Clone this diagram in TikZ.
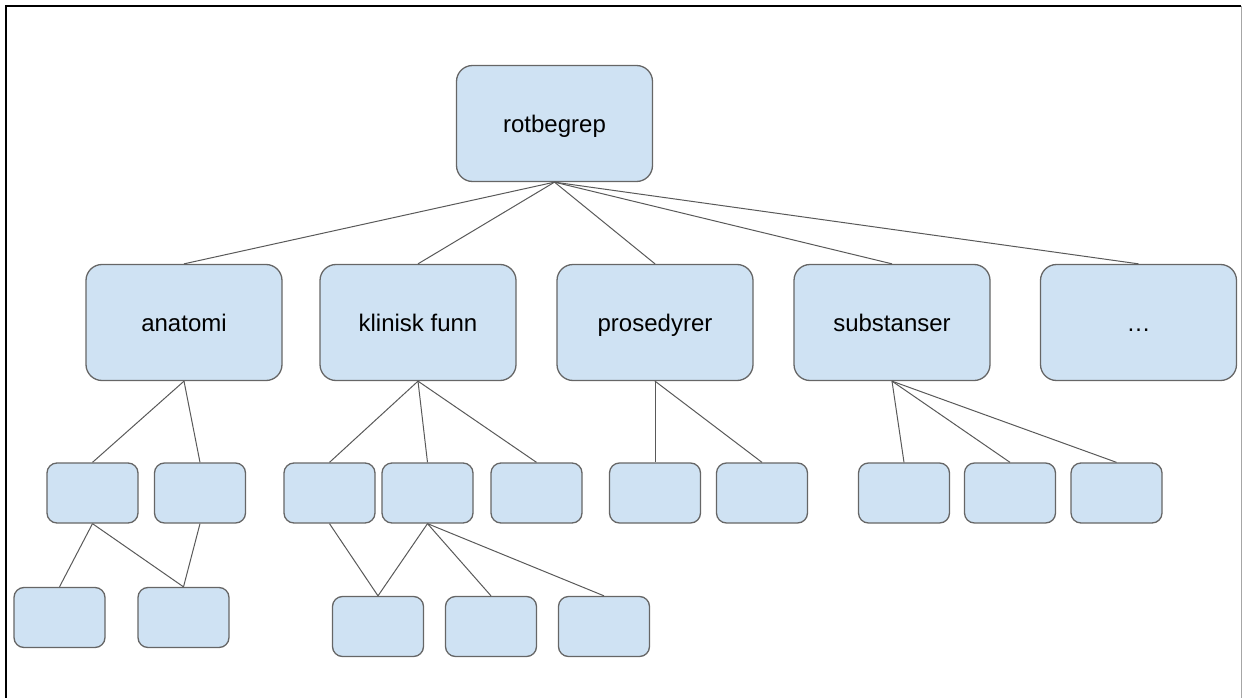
\documentclass[tikz,border=0pt]{standalone}
\usepackage{fontspec}
\setmainfont{Liberation Sans}
\definecolor{boxfill}{HTML}{CFE2F3}
\definecolor{boxline}{HTML}{666666}
\definecolor{linkline}{HTML}{595959}

\begin{document}
\begin{tikzpicture}[x=1pt, y=-1pt,
  concept/.style={draw=boxline, fill=boxfill, line width=1.3pt, rounded corners=16pt,
    minimum width=196pt, minimum height=116pt, inner sep=0pt, text height=18pt, text depth=1pt,
    font=\fontsize{24}{29}\selectfont},
  leaf/.style={draw=boxline, fill=boxfill, line width=1.3pt, rounded corners=10pt,
    minimum width=91pt, minimum height=60pt, inner sep=0pt}]
  \useasboundingbox (0,0) rectangle (1242,698);
  \draw[line width=2.5pt] (1241,6) -- (6,6) -- (6,698);
  \draw[gray!70, line width=1pt] (1241,6) -- (1241,698);

  % top two levels
  \node[concept] (root) at (554.5,123.5) {rotbegrep};
  \node[concept] (anatomi) at (184,322.5) {anatomi};
  \node[concept] (funn) at (418,322.5) {klinisk funn};
  \node[concept] (prosedyrer) at (655,322.5) {prosedyrer};
  \node[concept] (substanser) at (892,322.5) {substanser};
  \node[concept] (more) at (1138.5,322.5) {…};

  % children
  \node[leaf] (an-1) at (92.5,493) {};
  \node[leaf] (an-2) at (200,493) {};
  \node[leaf] (an-1-1) at (59.5,617.5) {};
  \node[leaf] (an-1-2) at (183.5,617.5) {};
  \node[leaf] (fu-1) at (329.5,493) {};
  \node[leaf] (fu-2) at (427.5,493) {};
  \node[leaf] (fu-3) at (536.5,493) {};
  \node[leaf] (fu-2-1) at (378,626.5) {};
  \node[leaf] (fu-2-2) at (491,626.5) {};
  \node[leaf] (fu-2-3) at (604,626.5) {};
  \node[leaf] (pr-1) at (655,493) {};
  \node[leaf] (pr-2) at (762,493) {};
  \node[leaf] (su-1) at (904,493) {};
  \node[leaf] (su-2) at (1010,493) {};
  \node[leaf] (su-3) at (1116.5,493) {};

  \path[linkline, line width=1pt]
  (root.south) edge (anatomi.north) edge (funn.north) edge (prosedyrer.north)
    edge (substanser.north) edge (more.north)
  (anatomi.south) edge (an-1.north) edge (an-2.north)
  (an-1.south) edge (an-1-1.north) edge (an-1-2.north)
  (an-2.south) edge (an-1-2.north)
  (funn.south) edge (fu-1.north) edge (fu-2.north) edge (fu-3.north)
  (fu-1.south) edge (fu-2-1.north)
  (fu-2.south) edge (fu-2-1.north) edge (fu-2-2.north) edge (fu-2-3.north)
  (prosedyrer.south) edge (pr-1.north) edge (pr-2.north)
  (substanser.south) edge (su-1.north) edge (su-2.north) edge (su-3.north)
  ;
\end{tikzpicture}
\end{document}
